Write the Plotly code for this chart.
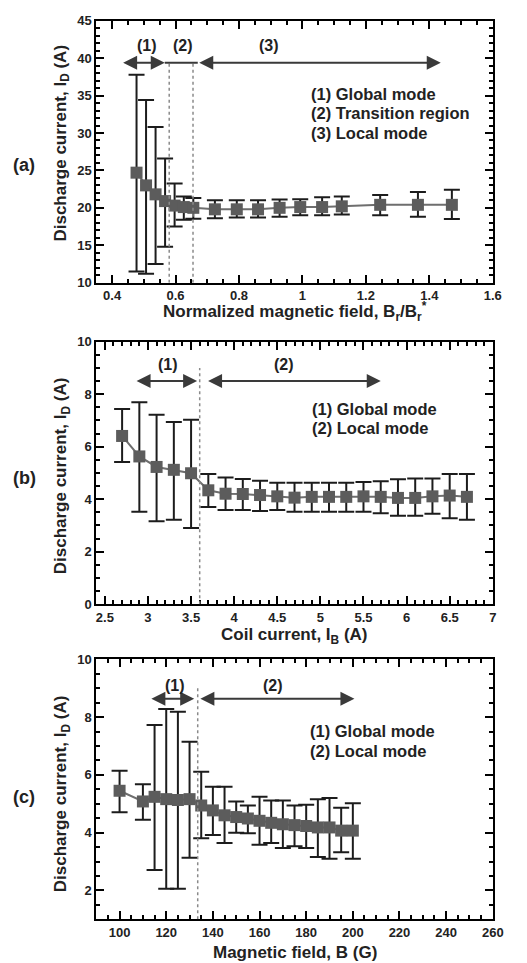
import plotly.graph_objects as go

W, H = 527, 963

# ---------------- data ----------------
# panel (a)
a_x = [0.477, 0.507, 0.537, 0.567, 0.597, 0.626, 0.656, 0.724, 0.793, 0.86, 0.928, 0.993, 1.062, 1.124, 1.245, 1.364, 1.471]
a_y = [24.7, 23.0, 21.8, 20.9, 20.3, 20.1, 20.0, 19.8, 19.8, 19.8, 20.0, 20.1, 20.1, 20.2, 20.4, 20.4, 20.4]
a_top = [37.8, 34.4, 30.8, 26.6, 23.25, 21.5, 21.3, 21.0, 21.0, 21.0, 21.1, 21.15, 21.4, 21.5, 21.7, 22.1, 22.4]
a_bot = [11.5, 11.2, 12.5, 14.8, 17.5, 18.4, 18.55, 18.6, 18.7, 18.7, 18.8, 19.0, 19.0, 19.1, 19.0, 18.8, 18.5]

# panel (b)
b_x = [2.7, 2.9, 3.1, 3.3, 3.5, 3.7, 3.9, 4.1, 4.3, 4.5, 4.7, 4.9, 5.1, 5.3, 5.5, 5.7, 5.9, 6.1, 6.3, 6.5, 6.7]
b_y = [6.41, 5.63, 5.23, 5.12, 4.99, 4.34, 4.21, 4.20, 4.16, 4.11, 4.06, 4.09, 4.09, 4.09, 4.11, 4.09, 4.05, 4.05, 4.11, 4.14, 4.09]
b_top = [7.44, 7.69, 7.22, 6.94, 7.03, 4.96, 4.83, 4.77, 4.70, 4.63, 4.63, 4.63, 4.63, 4.63, 4.66, 4.68, 4.76, 4.79, 4.79, 4.96, 4.96]
b_bot = [5.42, 3.52, 3.16, 3.22, 2.90, 3.70, 3.59, 3.59, 3.55, 3.59, 3.52, 3.52, 3.52, 3.52, 3.52, 3.47, 3.37, 3.37, 3.45, 3.28, 3.22]

# panel (c)
c_x = [100, 110, 115, 120, 125, 130, 135, 140, 145, 150, 155, 160, 165, 170, 175, 180, 185, 190, 195, 200]
c_y = [5.45, 5.08, 5.24, 5.16, 5.13, 5.16, 4.94, 4.77, 4.60, 4.54, 4.49, 4.41, 4.34, 4.29, 4.26, 4.23, 4.18, 4.18, 4.07, 4.07]
c_top = [6.14, 5.68, 7.73, 8.28, 8.19, 7.15, 6.11, 5.59, 5.59, 5.08, 4.94, 5.24, 5.11, 5.11, 4.94, 4.97, 5.16, 5.20, 4.86, 5.02]
c_bot = [4.71, 4.45, 2.71, 2.06, 2.06, 3.13, 3.81, 3.92, 3.64, 4.00, 3.98, 3.58, 3.64, 3.47, 3.53, 3.47, 3.16, 3.10, 3.32, 3.10]

# region boundaries (data units)
a_bounds = [0.58, 0.655]
b_bounds = [3.6]
c_bounds = [133.5]

a_legend = ["(1) Global mode", "(2) Transition region", "(3) Local mode"]
bc_legend = ["(1) Global mode", "(2) Local mode"]

# ---------------- styling ----------------
FONT = "Liberation Sans, Arial, sans-serif"
MARK = "#5c5c5c"
LINE = "#6e6e6e"
ERR = "#1c1c1c"
ARROW = "#3a3a3a"


def py(px):
    return 1 - px / H


def pxx(px):
    return px / W


fig = go.Figure()

panels = [
    ("x", "y", a_x, a_y, a_top, a_bot),
    ("x2", "y2", b_x, b_y, b_top, b_bot),
    ("x3", "y3", c_x, c_y, c_top, c_bot),
]
for xa, ya, xs, ys, tops, bots in panels:
    fig.add_trace(go.Scatter(
        x=xs, y=ys, xaxis=xa, yaxis=ya, mode="lines+markers",
        line=dict(color=LINE, width=2),
        marker=dict(symbol="square", size=12, color=MARK),
        error_y=dict(type="data", symmetric=False,
                     array=[t - v for t, v in zip(tops, ys)],
                     arrayminus=[v - b for v, b in zip(ys, bots)],
                     color=ERR, thickness=2, width=8),
        showlegend=False, cliponaxis=False,
    ))

dom_x = [pxx(98.3), pxx(503.3)]
doms_y = [
    [py(280), py(14)],
    [py(606.7), py(340)],
    [py(926.7), py(662.7)],
]

tickfont = dict(family=FONT, size=13, color="#222", weight="bold")


def axis_cfg(rng, tick0, dtick, mdtick, anchor, dom):
    return dict(domain=dom, range=rng, tick0=tick0, dtick=dtick, anchor=anchor,
                showline=True, linewidth=2, linecolor="black", mirror="ticks",
                ticks="inside", ticklen=8, tickwidth=2, tickcolor="black",
                minor=dict(ticks="inside", ticklen=4, tickwidth=1.5, dtick=mdtick, tickcolor="black"),
                showgrid=False, zeroline=False, tickfont=tickfont)


fig.update_layout(
    width=W, height=H, margin=dict(l=0, r=0, t=0, b=0),
    paper_bgcolor="white", plot_bgcolor="white",
    font=dict(family=FONT, color="#222"),
    xaxis=axis_cfg([0.35, 1.6], 0.4, 0.2, 0.05, "y", dom_x),
    yaxis=axis_cfg([10, 45], 10, 5, 1, "x", doms_y[0]),
    xaxis2=axis_cfg([2.4, 7.0], 2.5, 0.5, 0.1, "y2", dom_x),
    yaxis2=axis_cfg([0, 10], 0, 2, 0.5, "x2", doms_y[1]),
    xaxis3=axis_cfg([90, 260], 100, 20, 5, "y3", dom_x),
    yaxis3=axis_cfg([1, 10], 2, 2, 0.5, "x3", doms_y[2]),
)

shapes = []
anns = []
legfont = dict(family=FONT, size=16.5, color="#222", weight="bold")
numfont = dict(family=FONT, size=16, color="#222", weight="bold")
titlefont = dict(family=FONT, size=17, color="#222", weight="bold")

# dashed vertical boundaries
for xv in a_bounds:
    shapes.append(dict(type="line", xref="x", yref="y", x0=xv, x1=xv, y0=10, y1=39.4,
                       line=dict(color="#8a8a8a", width=1.5, dash="dot")))
for xv in b_bounds:
    shapes.append(dict(type="line", xref="x2", yref="y2", x0=xv, x1=xv, y0=0, y1=9.0,
                       line=dict(color="#8a8a8a", width=1.5, dash="dot")))
for xv in c_bounds:
    shapes.append(dict(type="line", xref="x3", yref="y3", x0=xv, x1=xv, y0=1, y1=9.0,
                       line=dict(color="#8a8a8a", width=1.5, dash="dot")))


def darrow(xr, yr, x0, x1, yv):
    anns.append(dict(xref=xr, yref=yr, axref=xr, ayref=yr, x=x1, y=yv, ax=x0, ay=yv,
                     text="", showarrow=True, arrowhead=2, arrowside="end+start",
                     arrowsize=1.4, arrowwidth=2, arrowcolor=ARROW))


def label(xr, yr, xv, yv, t, font, xanchor="center", yanchor="middle", angle=0, yshift=0):
    anns.append(dict(xref=xr, yref=yr, x=xv, y=yv, text=t, showarrow=False,
                     xanchor=xanchor, yanchor=yanchor, textangle=angle, font=font,
                     yshift=yshift))


# panel a arrows
darrow("x", "y", 0.43, 0.566, 39.4)
shapes.append(dict(type="line", xref="x", yref="y", x0=0.566, x1=0.67, y0=39.4, y1=39.4,
                   line=dict(color=ARROW, width=2)))
darrow("x", "y", 0.67, 1.436, 39.4)
for t, xv in [("(1)", 0.51), ("(2)", 0.623), ("(3)", 0.896)]:
    label("x", "y", xv, 41.7, t, numfont)

# panel b arrows
darrow("x2", "y2", 2.85, 3.57, 8.5)
darrow("x2", "y2", 3.68, 5.70, 8.5)
for t, xv in [("(1)", 3.23), ("(2)", 4.58)]:
    label("x2", "y2", xv, 9.15, t, numfont)

# panel c arrows
darrow("x3", "y3", 113, 132, 8.64)
darrow("x3", "y3", 134, 200.7, 8.64)
for t, xv in [("(1)", 123.6), ("(2)", 165.6)]:
    label("x3", "y3", xv, 9.1, t, numfont)

# legends (text blocks)
for t, yv in zip(a_legend, [35.2, 32.65, 30.0]):
    label("x", "y", 1.022, yv, t, legfont, xanchor="left")
for t, yv in zip(bc_legend, [7.44, 6.7]):
    label("x2", "y2", 4.875, yv, t, legfont, xanchor="left")
for t, yv in zip(bc_legend, [7.51, 6.84]):
    label("x3", "y3", 180.8, yv, t, legfont, xanchor="left")

# axis titles
ytitle = "Discharge current, I<sub>D</sub> (A)"
for cy in [138, 476, 799]:
    label("paper", "paper", pxx(63), py(cy), ytitle, titlefont, angle=-90)
for t, cy in [("Normalized magnetic field, B<sub>r</sub>/B<sub>r</sub><sup>*</sup>", 309),
              ("Coil current, I<sub>B</sub> (A)", 639)]:
    label("paper", "paper", pxx(301), py(cy), t, titlefont)
label("paper", "paper", pxx(301), py(953), "Magnetic field, B (G)", titlefont, yshift=-7)

# panel letters
for t, cy in [("(a)", 160), ("(b)", 478), ("(c)", 803)]:
    label("paper", "paper", pxx(25), py(cy), t,
          dict(family=FONT, size=18, color="#222", weight="bold"))

fig.update_layout(shapes=shapes, annotations=anns)

fig.write_html("out.html")
